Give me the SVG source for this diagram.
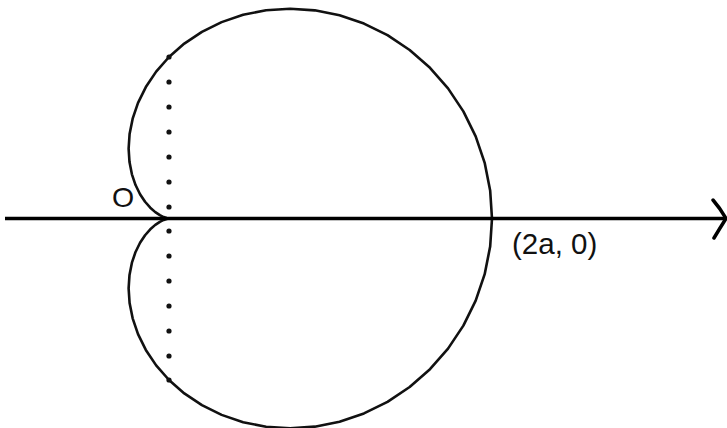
<svg xmlns="http://www.w3.org/2000/svg" width="727" height="428" viewBox="0 0 727 428">
<style>
.curve{fill:none;stroke:#111;stroke-width:2.6;stroke-linejoin:round}
.axis{fill:none;stroke:#000;stroke-width:3.5}
.dot{fill:#111}
.lbl{font-family:"Liberation Sans",Arial,sans-serif;fill:#111}
</style>
<rect width="727" height="428" fill="#fff"/>
<g id="cardioid">
<polyline class="curve" points="492,218.5 490.16,190.40 484.68,162.84 475.68,136.33 463.37,111.36 448.03,88.39 429.99,67.82 409.66,49.99 387.49,35.16 363.95,23.55 339.54,15.26 314.76,10.33 290.13,8.70 266.10,10.27 243.13,14.83 221.62,22.13 201.91,31.84 184.30,43.59 169,57 156.15,71.64 145.83,87.07 138.02,102.88 132.66,118.65 129.59,133.99 128.62,148.57 129.50,162.09 131.92,174.31 135.55,185.05 140.06,194.21 145.07,201.75 150.26,207.68 155.29,212.11 159.85,215.17 163.69,217.08 166.59,218.08 169,218.5 166.59,218.92 163.69,219.92 159.85,221.83 155.29,224.89 150.26,229.32 145.07,235.25 140.06,242.79 135.55,251.95 131.92,262.69 129.50,274.91 128.62,288.43 129.59,303.01 132.66,318.35 138.02,334.12 145.83,349.93 156.15,365.36 169,380 184.30,393.41 201.91,405.16 221.62,414.87 243.13,422.17 266.10,426.73 290.13,428.30 314.76,426.67 339.54,421.74 363.95,413.45 387.49,401.84 409.66,387.01 429.99,369.18 448.03,348.61 463.37,325.64 475.68,300.67 484.68,274.16 490.16,246.60 492,218.5"/>
</g>
<g id="connectors">
<line class="axis" x1="5" y1="218.5" x2="725" y2="218.5"/>
<path class="axis" d="M713,200 Q720,208 726,218.5 Q720,228 714,238" stroke-width="3" stroke-linecap="round"/>
<g id="dotted-line">
<circle class="dot" cx="169" cy="57" r="2.6"/>
<circle class="dot" cx="169" cy="82" r="2.6"/>
<circle class="dot" cx="169" cy="107" r="2.6"/>
<circle class="dot" cx="169" cy="132" r="2.6"/>
<circle class="dot" cx="169" cy="157" r="2.6"/>
<circle class="dot" cx="169" cy="182" r="2.6"/>
<circle class="dot" cx="169" cy="207" r="2.6"/>
<circle class="dot" cx="169" cy="231" r="2.6"/>
<circle class="dot" cx="169" cy="256" r="2.6"/>
<circle class="dot" cx="169" cy="281" r="2.6"/>
<circle class="dot" cx="169" cy="306" r="2.6"/>
<circle class="dot" cx="169" cy="331" r="2.6"/>
<circle class="dot" cx="169" cy="356" r="2.6"/>
<circle class="dot" cx="169" cy="380" r="2.6"/>
</g>
</g>
<g id="label-O"><text class="lbl" x="112" y="207" font-size="28.5">O</text></g>
<g id="label-2a0"><text class="lbl" x="512" y="254" font-size="29.5">(2a, 0)</text></g>
</svg>
